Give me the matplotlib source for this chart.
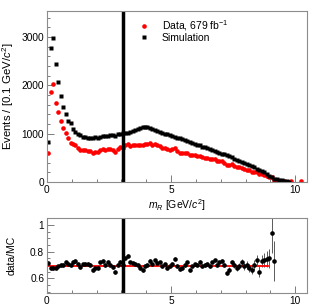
import numpy as np
import matplotlib
matplotlib.use("Agg")
import matplotlib.pyplot as plt
from matplotlib.ticker import MultipleLocator

plt.rcParams["font.family"] = ["Liberation Sans", "DejaVu Sans"]
plt.rcParams["mathtext.fontset"] = "custom"
plt.rcParams["mathtext.rm"] = "Liberation Sans"
plt.rcParams["mathtext.it"] = "Liberation Sans:italic"

sim = [830, 2780, 2975, 2445, 2080, 1780, 1560, 1405, 1270, 1225,
       1090, 1045, 1000, 965, 940, 925, 920, 912, 918, 925,
       915, 932, 948, 960, 950, 972, 982, 962, 985, 1002,
       1012, 1022, 1018, 1042, 1062, 1082, 1102, 1122, 1145, 1150,
       1135, 1112, 1095, 1072, 1062, 1042, 1022, 1005, 990, 972,
       958, 942, 921, 905, 884, 868, 847, 831, 810, 794,
       773, 757, 736, 720, 699, 682, 662, 645, 625, 608,
       588, 571, 550, 534, 510, 487, 462, 442, 418, 397,
       372, 352, 325, 302, 275, 252, 228, 205, 170, 135,
       100, 72, 55, 45, 35, 25, 15, 8]

data = [595, 1870, 2030, 1645, 1440, 1265, 1110, 1010, 905, 815,
        790, 760, 710, 665, 665, 660, 650, 640, 610, 625,
        620, 670, 690, 670, 690, 680, 670, 625, 690, 725,
        710, 765, 780, 750, 760, 765, 770, 760, 760, 790,
        790, 810, 775, 785, 760, 750, 705, 705, 675, 670,
        680, 700, 640, 605, 595, 605, 610, 550, 560, 560,
        540, 545, 510, 500, 495, 475, 475, 470, 440, 435,
        430, 400, 350, 355, 365, 340, 315, 305, 300, 270,
        260, 240, 215, 210, 200, 165, 165, 150, 125, 100,
        95, 52, 35, 25, 18, 12, 8, 5, 15, np.nan,
        np.nan, np.nan, 12]

ratio = [0.718, 0.675, 0.68, 0.675, 0.69, 0.70, 0.70, 0.72, 0.71, 0.70,
         0.72, 0.73, 0.71, 0.685, 0.705, 0.71, 0.71, 0.70, 0.665, 0.68,
         0.68, 0.72, 0.73, 0.70, 0.725, 0.70, 0.685, 0.65, 0.70, 0.725,
         0.70, 0.75, 0.77, 0.72, 0.715, 0.71, 0.70, 0.68, 0.665, 0.69,
         0.70, 0.73, 0.71, 0.735, 0.715, 0.72, 0.69, 0.705, 0.68, 0.69,
         0.71, 0.745, 0.695, 0.67, 0.675, 0.70, 0.72, 0.66, 0.69, 0.705,
         0.70, 0.725, 0.695, 0.70, 0.71, 0.695, 0.72, 0.735, 0.70, 0.72,
         0.73, 0.70, 0.64, 0.665, 0.72, 0.70, 0.68, 0.695, 0.72, 0.69,
         0.70, 0.68, 0.665, 0.70, 0.735, 0.65, 0.73, 0.74, 0.745, 0.75,
         0.94, 0.73]
ratio_err = [0.014] * 70 + [0.016, 0.017, 0.018, 0.019, 0.02, 0.021, 0.022, 0.023,
                            0.024, 0.026, 0.028, 0.03, 0.032, 0.035, 0.038, 0.042,
                            0.047, 0.053, 0.06, 0.07, 0.15, 0.15]

# bin centres of the 0.1 GeV/c^2 histogram
mr_sim = 0.05 + 0.1 * np.arange(len(sim))
mr_data = 0.05 + 0.1 * np.arange(len(data))
mr_ratio = 0.05 + 0.1 * np.arange(len(ratio))

fit_value = 0.695
fit_end = 8.9
cut = 3.05

fig = plt.figure(figsize=(3.15, 3.06), dpi=100)
ax1 = fig.add_axes([0.149, 0.405, 0.826, 0.559])
ax2 = fig.add_axes([0.149, 0.042, 0.826, 0.246])

ax1.plot(mr_data, data, "o", color="red", ms=3.3, mec="none", label="Data, 679 fb$^{-1}$")
ax1.plot(mr_sim, sim, "s", color="black", ms=3.1, mec="none", label="Simulation")
ax1.axvline(cut, color="black", lw=2.5)
ax1.set_xlim(0, 10.48)
ax1.set_ylim(0, 3540)
ax1.set_ylabel("Events / [0.1 GeV/$c^2$]", fontsize=8.2)
ax1.set_xlabel("$m_R$ [GeV/$c^2$]", fontsize=7.5, labelpad=2)
ax1.xaxis.set_major_locator(MultipleLocator(5))
ax1.xaxis.set_minor_locator(MultipleLocator(1))
ax1.yaxis.set_major_locator(MultipleLocator(1000))
ax1.yaxis.set_minor_locator(MultipleLocator(200))
ax1.legend(loc="upper left", bbox_to_anchor=(0.33, 0.995), frameon=False,
           fontsize=7.5, handletextpad=1.2, labelspacing=0.0, borderaxespad=0.2,
           handlelength=1.0)

ax2.errorbar(mr_ratio, ratio, yerr=ratio_err, fmt="o", color="black", ms=3.3,
             mec="none", ecolor="0.35", elinewidth=0.7, capsize=0)
ax2.plot([0, fit_end], [fit_value, fit_value], color="red", lw=1.3)
ax2.axvline(cut, color="black", lw=2.5)
ax2.set_xlim(0, 10.48)
ax2.set_ylim(0.49, 1.053)
ax2.set_ylabel("data/MC", fontsize=7.5)
ax2.xaxis.set_major_locator(MultipleLocator(5))
ax2.xaxis.set_minor_locator(MultipleLocator(1))
ax2.yaxis.set_minor_locator(MultipleLocator(0.05))
ax2.set_yticks([0.6, 0.8, 1.0])
ax2.set_yticklabels(["0.6", "0.8", "1"])

for ax in (ax1, ax2):
    ax.yaxis.set_label_coords(-0.117, 0.5)
    for sp in ax.spines.values():
        sp.set_color("0.55")
        sp.set_linewidth(0.8)
    ax.tick_params(which="both", direction="in", colors="0.4", labelcolor="black",
                   labelsize=7.3, top=False, right=False)
    ax.tick_params(which="major", length=5, width=0.6, pad=2)
    ax.tick_params(which="minor", length=2.5, width=0.6)

fig.savefig("out.png", dpi=100)
